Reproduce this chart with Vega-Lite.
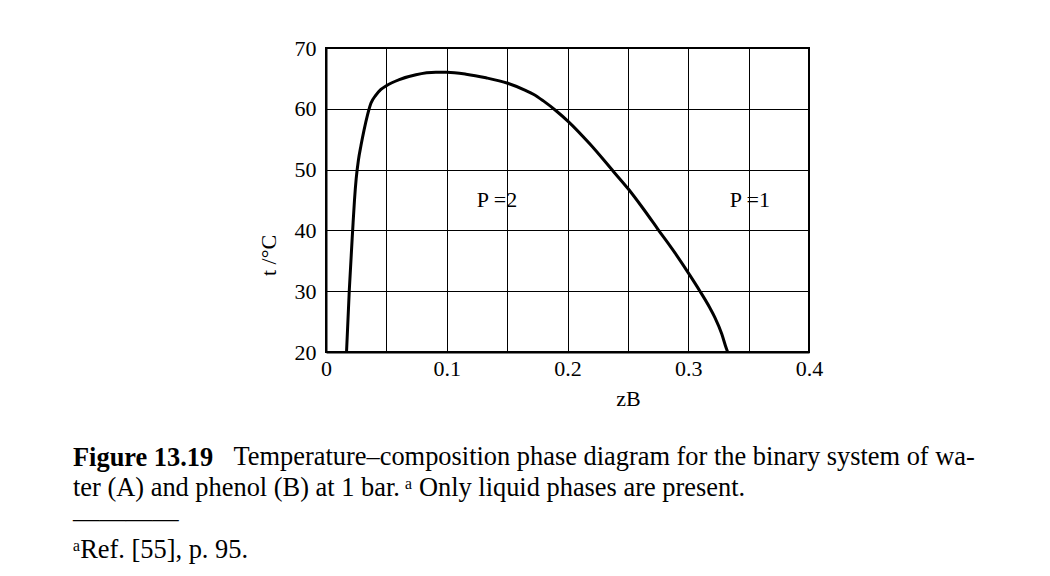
{
  "$schema": "https://vega.github.io/schema/vega-lite/v6.json",
  "width": 483,
  "height": 304,
  "autosize": {"type": "none"},
  "padding": {"left": 326, "top": 48, "right": 241, "bottom": 224},
  "background": "white",
  "config": {
    "font": "Liberation Serif",
    "view": {"stroke": "black", "strokeWidth": 2},
    "axis": {
      "domainColor": "black",
      "domainWidth": 2,
      "gridColor": "black",
      "gridWidth": 1,
      "gridOpacity": 1,
      "ticks": false,
      "labelFont": "Liberation Serif",
      "labelFontSize": 22,
      "labelColor": "black",
      "titleFont": "Liberation Serif",
      "titleFontWeight": "normal",
      "titleColor": "black",
      "titleFontSize": 22
    }
  },
  "title": {
    "text": "Figure 13.19",
    "subtitle": [
      "\u200b\u00a0\u00a0\u00a0\u00a0\u00a0\u00a0\u00a0\u00a0\u00a0\u00a0\u00a0\u00a0\u00a0\u00a0\u00a0\u00a0\u00a0\u00a0\u00a0\u00a0\u00a0\u00a0\u00a0\u00a0\u200aTemperature\u2013composition phase diagram for the binary system of wa-",
      "ter (A) and phenol (B) at 1 bar.\u2009\u1d43 Only liquid phases are present.",
      "\u2014\u2014\u2014\u2014",
      "\u1d43Ref. [55], p. 95."
    ],
    "orient": "bottom",
    "anchor": "start",
    "frame": "group",
    "dx": -253,
    "offset": 36,
    "font": "Liberation Serif",
    "fontSize": 26.4,
    "fontWeight": "bold",
    "color": "black",
    "lineHeight": 30,
    "subtitleFont": "Liberation Serif",
    "subtitleFontSize": 26.4,
    "subtitleColor": "black",
    "subtitleLineHeight": 31,
    "subtitlePadding": -27
  },
  "datasets": {
    "curve": [
      {"i": 0, "zB": 0.0170, "t": 20.0},
      {"i": 1, "zB": 0.0193, "t": 30.2},
      {"i": 2, "zB": 0.0221, "t": 40.1},
      {"i": 3, "zB": 0.0236, "t": 45.0},
      {"i": 4, "zB": 0.0250, "t": 48.5},
      {"i": 5, "zB": 0.0268, "t": 51.5},
      {"i": 6, "zB": 0.0290, "t": 54.0},
      {"i": 7, "zB": 0.0315, "t": 56.5},
      {"i": 8, "zB": 0.0344, "t": 59.0},
      {"i": 9, "zB": 0.0372, "t": 60.9},
      {"i": 10, "zB": 0.0415, "t": 62.3},
      {"i": 11, "zB": 0.0455, "t": 63.2},
      {"i": 12, "zB": 0.0500, "t": 63.8},
      {"i": 13, "zB": 0.0607, "t": 64.8},
      {"i": 14, "zB": 0.0745, "t": 65.6},
      {"i": 15, "zB": 0.0910, "t": 66.0},
      {"i": 16, "zB": 0.1000, "t": 66.0},
      {"i": 17, "zB": 0.1160, "t": 65.7},
      {"i": 18, "zB": 0.1325, "t": 65.1},
      {"i": 19, "zB": 0.1505, "t": 64.2},
      {"i": 20, "zB": 0.1656, "t": 63.0},
      {"i": 21, "zB": 0.1717, "t": 62.4},
      {"i": 22, "zB": 0.1800, "t": 61.3},
      {"i": 23, "zB": 0.1910, "t": 59.6},
      {"i": 24, "zB": 0.2007, "t": 57.9},
      {"i": 25, "zB": 0.2186, "t": 54.2},
      {"i": 26, "zB": 0.2380, "t": 49.7},
      {"i": 27, "zB": 0.2504, "t": 46.8},
      {"i": 28, "zB": 0.2626, "t": 43.6},
      {"i": 29, "zB": 0.2752, "t": 40.1},
      {"i": 30, "zB": 0.2890, "t": 36.3},
      {"i": 31, "zB": 0.3014, "t": 32.6},
      {"i": 32, "zB": 0.3097, "t": 30.0},
      {"i": 33, "zB": 0.3175, "t": 27.4},
      {"i": 34, "zB": 0.3220, "t": 25.7},
      {"i": 35, "zB": 0.3277, "t": 23.0},
      {"i": 36, "zB": 0.3315, "t": 20.6},
      {"i": 37, "zB": 0.3326, "t": 20.0}
    ],
    "labels": [
      {"zB": 0.1416, "t": 45, "label": "P =2"},
      {"zB": 0.3510, "t": 45, "label": "P =1"}
    ]
  },
  "layer": [
    {
      "data": {"name": "curve"},
      "mark": {"type": "line", "color": "black", "strokeWidth": 3, "interpolate": "monotone", "clip": true},
      "encoding": {
        "x": {
          "field": "zB",
          "type": "quantitative",
          "scale": {"domain": [0, 0.4], "nice": false, "zero": false},
          "axis": {
            "values": [0, 0.05, 0.1, 0.15, 0.2, 0.25, 0.3, 0.35, 0.4],
            "labelExpr": "round(datum.value * 20) % 2 == 0 ? format(datum.value, '~g') : ''",
            "labelFlush": false,
            "labelOverlap": false,
            "labelPadding": 6,
            "title": "zB",
            "titleX": 302,
            "titleY": 53,
            "titleBaseline": "alphabetic",
            "titleAlign": "center"
          }
        },
        "y": {
          "field": "t",
          "type": "quantitative",
          "scale": {"domain": [20, 70], "nice": false, "zero": false},
          "axis": {
            "values": [20, 30, 40, 50, 60, 70],
            "labelFlush": false,
            "labelOverlap": false,
            "labelPadding": 10,
            "title": "t /\u00b0C",
            "titleX": -58,
            "titleY": 207,
            "titleAlign": "center",
            "titleBaseline": "middle"
          }
        },
        "order": {"field": "i", "type": "quantitative"}
      }
    },
    {
      "data": {"name": "labels"},
      "mark": {"type": "text", "fontSize": 22, "font": "Liberation Serif", "color": "black"},
      "encoding": {
        "x": {"field": "zB", "type": "quantitative"},
        "y": {"field": "t", "type": "quantitative"},
        "text": {"field": "label"}
      }
    }
  ]
}
